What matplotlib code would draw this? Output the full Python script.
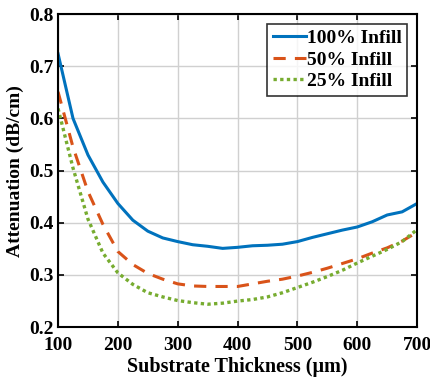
import matplotlib
matplotlib.use('Agg')
import matplotlib.pyplot as plt
import numpy as np

# substrate thickness (um)
thickness = [100, 125, 150, 175, 200, 225, 250, 275, 300, 325, 350, 375, 400,
             425, 450, 475, 500, 525, 550, 575, 600, 625, 650, 675, 700]
infill_100 = [0.724, 0.600, 0.530, 0.478, 0.437, 0.405, 0.384, 0.371, 0.364, 0.358,
              0.355, 0.351, 0.353, 0.356, 0.357, 0.359, 0.364, 0.372, 0.379, 0.386,
              0.392, 0.402, 0.415, 0.421, 0.437]
infill_50 = [0.651, 0.545, 0.460, 0.397, 0.345, 0.320, 0.303, 0.292, 0.283, 0.279,
             0.278, 0.278, 0.278, 0.283, 0.288, 0.292, 0.298, 0.305, 0.313, 0.322,
             0.331, 0.342, 0.352, 0.365, 0.382]
infill_25 = [0.619, 0.505, 0.407, 0.342, 0.304, 0.282, 0.266, 0.258, 0.251, 0.247,
             0.244, 0.246, 0.250, 0.253, 0.258, 0.266, 0.276, 0.286, 0.297, 0.309,
             0.323, 0.336, 0.349, 0.364, 0.387]

plt.rcParams['font.family'] = 'Liberation Serif'
plt.rcParams['font.weight'] = 'bold'

fig = plt.figure(figsize=(4.3, 3.8), dpi=100)
ax = fig.add_axes([0.135, 0.139, 0.835, 0.824])

ax.plot(thickness, infill_100, color='#0072BD', lw=2.2, label='100% Infill')
ax.plot(thickness, infill_50, color='#D95319', lw=2.2, ls=(0, (4, 3)), label='50% Infill')
ax.plot(thickness, infill_25, color='#77AC30', lw=2.4, ls=(0, (1, 1)), label='25% Infill')

ax.set_xlim(100, 700)
ax.set_ylim(0.2, 0.8)
ax.set_xticks(np.arange(100, 701, 100))
ax.set_yticks(np.arange(0.2, 0.81, 0.1))
ax.set_yticklabels(['0.2', '0.3', '0.4', '0.5', '0.6', '0.7', '0.8'])
ax.grid(True, color='#d0d0d0', lw=1)
ax.tick_params(direction='in', top=True, right=True, labelsize=14, length=4, width=1.2)
ax.tick_params(axis='x', pad=7)
ax.tick_params(axis='y', pad=3)
for s in ax.spines.values():
    s.set_linewidth(1.5)

ax.set_xlabel('Substrate Thickness (\u03bcm)', fontsize=14.5, fontweight='bold', labelpad=2)
ax.set_ylabel('Attenuation (dB/cm)', fontsize=14, fontweight='bold', labelpad=4)

leg = ax.legend(loc='upper right', fontsize=14, frameon=True, fancybox=False,
                edgecolor='black', handlelength=1.7, handletextpad=0.05,
                borderpad=0.3, labelspacing=0.2, borderaxespad=0.5)
leg.get_frame().set_linewidth(1.2)

fig.savefig('out.png', dpi=100)
